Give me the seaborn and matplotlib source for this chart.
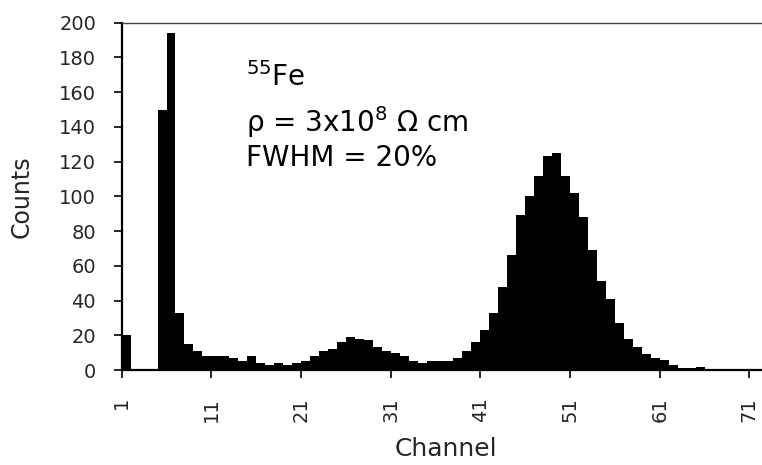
import numpy as np
import pandas as pd
import matplotlib
matplotlib.use("Agg")
import matplotlib.pyplot as plt
import seaborn as sns

# ---- data ----
channels = list(range(1, 73))
counts = [20, 0, 0, 0, 150, 194, 33, 15, 11, 8,
          8, 8, 7, 5, 8, 4, 3, 4, 3, 4,
          5, 8, 11, 12, 16, 19, 18, 17, 13, 11,
          10, 8, 5, 4, 5, 5, 5, 7, 11, 16,
          23, 33, 48, 66, 89, 100, 112, 123, 125, 112,
          102, 88, 69, 51, 41, 27, 18, 13, 9, 7,
          6, 3, 1, 1, 2, 0, 0, 0, 0, 0,
          0, 0]
x_ticks = [1, 11, 21, 31, 41, 51, 61, 71]
y_ticks = [0, 20, 40, 60, 80, 100, 120, 140, 160, 180, 200]
annot_lines = ["$^{55}$Fe", "\u03c1 = 3x10$^{8}$ \u03a9 cm", "FWHM = 20%"]
annot_x = 14.9
annot_y = [163.3, 137.3, 117.2]

df = pd.DataFrame({"Channel": channels, "Counts": counts})

sns.set_theme(style="ticks")
plt.rcParams["font.family"] = ["DejaVu Sans"]
plt.rcParams["mathtext.fontset"] = "dejavusans"

W, H = 762, 465
fig = plt.figure(figsize=(W / 100, H / 100), dpi=100)
ax = fig.add_axes([121.7 / W, 95 / H, (761 - 121.7) / W, (442.3 - 95) / H])

sns.histplot(data=df, x="Channel", weights="Counts", binwidth=1,
             binrange=(1, 73), color="black", edgecolor="black",
             linewidth=0, alpha=1.0, ax=ax)

ax.set_xlim(1, 72.3)
ax.set_ylim(0, 200)
ax.set_xticks(x_ticks)
ax.set_xticklabels([str(t) for t in x_ticks], rotation=90, fontsize=14)
ax.set_yticks(y_ticks)
ax.set_yticklabels([str(t) for t in y_ticks], fontsize=14)
ax.tick_params(axis="both", direction="out", length=6, width=1.2, color="black")
ax.tick_params(axis="y", pad=12.5)
ax.tick_params(axis="x", pad=13.5)
ax.set_xlabel("Channel", fontsize=18)
ax.set_ylabel("Counts", fontsize=17)
ax.xaxis.set_label_coords(0.507, -0.192)
ax.yaxis.set_label_coords(-0.138, 0.5)

for side in ["left", "bottom"]:
    ax.spines[side].set_linewidth(1.6)
    ax.spines[side].set_color("black")
ax.spines["top"].set_visible(True)
ax.spines["top"].set_linewidth(1.0)
ax.spines["top"].set_color("#444444")
ax.spines["right"].set_visible(False)

for line, yv in zip(annot_lines, annot_y):
    ax.text(annot_x, yv, line, fontsize=20, ha="left", va="baseline",
            color="black")

fig.savefig("out.png", dpi=100)
